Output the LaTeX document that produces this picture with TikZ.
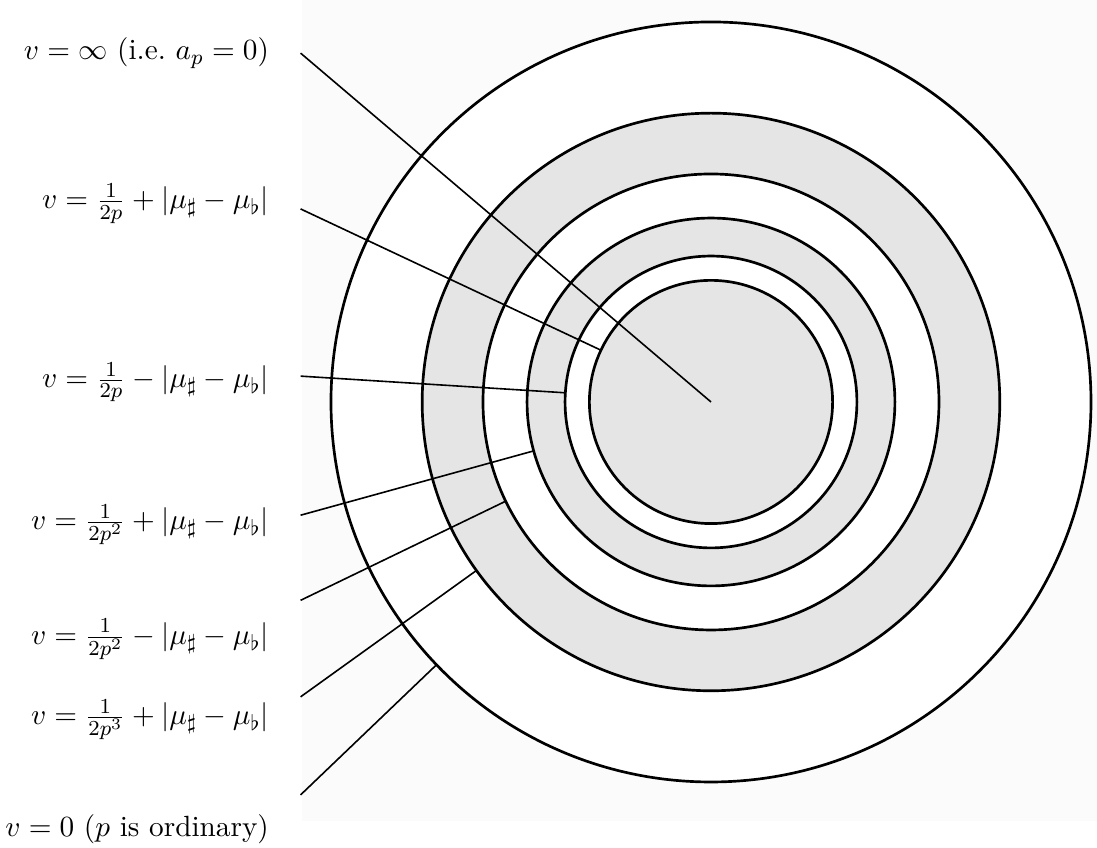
\documentclass[tikz,border=0pt,11pt]{standalone}
\usepackage{amsmath,amssymb}
\usepackage{tikz}
\usetikzlibrary{calc}
\definecolor{BandGray}{RGB}{229,229,229}
\definecolor{PaperGray}{RGB}{251,251,251}
\tikzset{
  ring/.style={line width=1pt, draw=black},
  leader/.style={line width=0.6pt, draw=black},
  vlabel/.style={anchor=base east, inner sep=0pt},
}

\begin{document}
\begin{tikzpicture}
  \useasboundingbox (-9.355,-5.868) rectangle (5.079,5.289);
  \fill[PaperGray] (-5.38,-5.51) rectangle (5.079,5.289);
  \coordinate (c) at (0,0);
  % rings, outermost first
  \foreach \r/\f in {5/white,3.8/BandGray,3/white,2.42/BandGray,1.92/white,1.6/BandGray}
    {\draw[ring, fill=\f] (c) circle (\r);}
  % leader starts and the ring each one stops on
  \foreach \i/\y/\r in {1/4.59/0,2/2.54/1.6,3/0.34/1.92,4/-1.49/2.42,5/-2.61/3,6/-3.88/3.8,7/-5.17/5}
    {\coordinate (s\i) at (-5.4,\y);
     \coordinate (e\i) at ($(c)!\r cm!(s\i)$);
     \draw[leader] (s\i) -- (e\i);}
  \node[vlabel] (lab1) at (-5.81,4.50) {$v=\infty$ (i.e.\ $a_p=0$)};
  \node[vlabel] (lab2) at (-5.81,2.54) {$v=\frac{1}{2p}+|\mu_\sharp-\mu_\flat|$};
  \node[vlabel] (lab3) at (-5.81,0.19) {$v=\frac{1}{2p}-|\mu_\sharp-\mu_\flat|$};
  \node[vlabel] (lab4) at (-5.81,-1.68) {$v=\frac{1}{2p^2}+|\mu_\sharp-\mu_\flat|$};
  \node[vlabel] (lab5) at (-5.81,-3.19) {$v=\frac{1}{2p^2}-|\mu_\sharp-\mu_\flat|$};
  \node[vlabel] (lab6) at (-5.81,-4.25) {$v=\frac{1}{2p^3}+|\mu_\sharp-\mu_\flat|$};
  \node[vlabel] (lab7) at (-5.81,-5.72) {$v=0$ ($p$ is ordinary)};
\end{tikzpicture}
\end{document}
